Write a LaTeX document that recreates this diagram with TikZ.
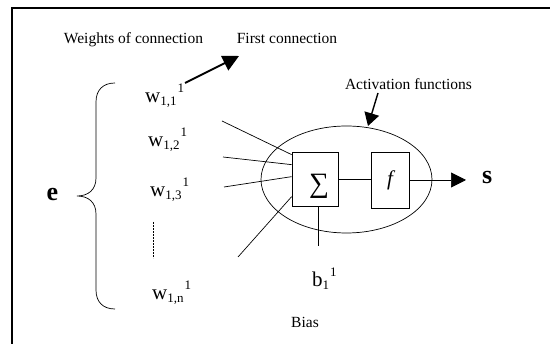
\documentclass[tikz,border=0pt]{standalone}
\usepackage{fontspec}
\setmainfont{Liberation Serif}
\usetikzlibrary{arrows.meta,shapes.geometric,calc}
\newcommand\wlab[3]{#1\raisebox{-2.5pt}{\fontsize{13}{13}\selectfont #2}\kern1pt\raisebox{10pt}{\fontsize{13}{13}\selectfont #3}}
\begin{document}
\begin{tikzpicture}[x=1pt,y=-1pt,
  lbl/.style={font=\fontsize{15.5}{18}\selectfont, inner sep=0pt, anchor=base},
  wl/.style={font=\fontsize{21}{24}\selectfont, inner sep=0pt, anchor=base west},
  big/.style={font=\fontsize{26}{30}\selectfont\bfseries, inner sep=0pt, anchor=base west},
  wire/.style={line width=0.7pt},
  boxn/.style={draw, line width=0.7pt, inner sep=0pt},
  thickarrow/.style={line width=1.8pt, -{Triangle[length=16pt,width=16pt]}},
  outarrow/.style={line width=0.7pt, -{Triangle[length=15pt,width=15pt]}}]
\useasboundingbox (0,0) rectangle (550,344);
% frame
\draw[line width=2pt] (12,344) -- (12,8.5) -- (550,8.5);
% top labels
\node[lbl] (woc) at (133.5,44) {Weights of connection};
\node[lbl] (fcl) at (287,44) {First connection};
\node[lbl] (afl) at (408.5,90) {Activation functions};
\node[lbl] (bias) at (305,328) {Bias};
% weights
\node[wl] (w11) at (145,103) {\wlab{w}{1,1}{1}};
\node[wl] (w12) at (148,147) {\wlab{w}{1,2}{1}};
\node[wl] (w13) at (150,197) {\wlab{w}{1,3}{1}};
\node[wl] (w1n) at (152,300) {\wlab{w}{1,n}{1}};
\node[wl] (b11) at (312,287) {\wlab{b}{1}{1}};
% e and s
\node[big] (e) at (46.5,201) {e};
\node[big] (s) at (482,184) {s};
% brace
\draw[wire] (115,83) .. controls (103,83) and (96,90) .. (96,102) -- (96,178)
  .. controls (96,190) and (88,196) .. (77,196)
  .. controls (88,196) and (96,202) .. (96,214) -- (96,290)
  .. controls (96,302) and (103,309) .. (115,309);
% dashed
\coordinate (d0) at (153,222);
\coordinate (d1) at (153,258);
\draw[line width=0.6pt, dash pattern=on 2pt off 1pt] (d0) -- (d1);
% ellipse and boxes
\node[draw, ellipse, line width=0.7pt, minimum width=171, minimum height=107, inner sep=0pt] (act) at (346.5,179.5) {};
\node[boxn, minimum width=46, minimum height=54] (sig) at (315,179) {};
\node[font=\fontsize{28}{30}\selectfont, inner sep=0pt] (sigt) at (319,186) {∑};
\node[boxn, minimum width=38, minimum height=56, font=\fontsize{21}{22}\selectfont\itshape] (fb) at (390,180) {f};
\draw[wire] (sig.east) -- (sig.east -| fb.west);
% inputs
\coordinate (i1) at (222,121);
\coordinate (i2) at (223,157);
\coordinate (i3) at (224,187);
\coordinate (i4) at (238,257);
\draw[wire] (i1) -- ([yshift=-3pt]sig.north west);
\draw[wire] (i2) -- ([yshift=-13pt]sig.north west);
\draw[wire] (i3) -- ([yshift=-25pt]sig.north west);
\draw[wire] (i4) -- ([yshift=-45pt]sig.north west);
% bias line
\coordinate (bt) at (318,246);
\draw[wire] (bt) -- (bt |- sig.south);
% output
\coordinate (sout) at (466,180);
\draw[outarrow] (fb.east) -- (sout);
% first connection arrow
\coordinate (fc0) at (185,83);
\coordinate (fc1) at (239,56);
\draw[thickarrow] (fc0) -- (fc1);
% activation arrow
\coordinate (ac0) at (378,93);
\coordinate (ac1) at (368,126);
\draw[line width=1.4pt, -{Triangle[length=13pt,width=15pt]}] (ac0) -- (ac1);
\end{tikzpicture}
\end{document}
